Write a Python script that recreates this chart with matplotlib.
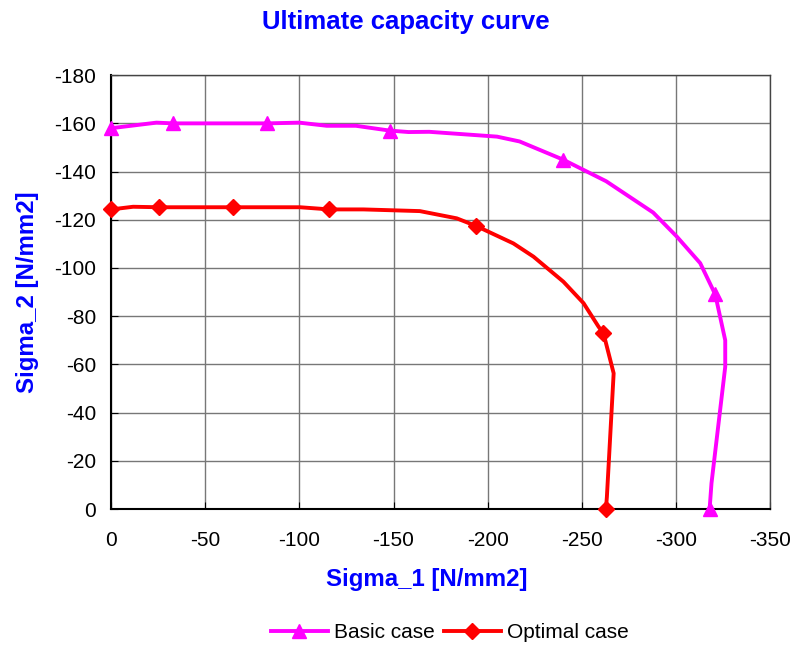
import matplotlib
matplotlib.use("Agg")
import matplotlib.pyplot as plt

plt.rcParams["font.family"] = ["Liberation Sans", "DejaVu Sans"]
plt.rcParams["axes.unicode_minus"] = False

# Basic case: line vertices and the marked points
basic_s1 = [0, -24, -33, -83, -100, -114.5, -130, -148, -158, -169, -205, -217,
            -240, -263, -288, -300.6, -313, -321, -326.3, -326.3, -319, -318]
basic_s2 = [-158, -160.3, -160, -160, -160.3, -159, -159, -157, -156.4, -156.5, -154.5, -152.5,
            -145, -136, -123, -113, -102, -89, -70, -59, -10.7, 0]
basic_marks = [0, 2, 3, 7, 12, 17, 21]

# Optimal case
opt_s1 = [0, -11.6, -25.4, -64.8, -100.3, -115.9, -134, -164, -183.6, -194, -213.7,
          -224.4, -240.3, -251, -259, -261.6, -267, -263.4, -262.9]
opt_s2 = [-124.3, -125.4, -125.2, -125.2, -125.2, -124.3, -124.3, -123.6, -120.6, -117.4, -110.2,
          -104.7, -94.3, -85.4, -75.6, -72.9, -56.3, -5, 0]
opt_marks = [0, 2, 3, 5, 9, 15, 18]

x_ticks = [0, -50, -100, -150, -200, -250, -300, -350]
y_ticks = [0, -20, -40, -60, -80, -100, -120, -140, -160, -180]

fig = plt.figure(figsize=(7.92, 6.48), dpi=100)
ax = fig.add_axes([0.1405, 0.2145, 0.8315, 0.6695])

ax.plot(basic_s1, basic_s2, color="#FF00FF", lw=2.8, marker="^", ms=10,
        markevery=basic_marks, label="Basic case", clip_on=False, zorder=3)
ax.plot(opt_s1, opt_s2, color="#FF0000", lw=2.8, marker="D", ms=8.5,
        markevery=opt_marks, label="Optimal case", clip_on=False, zorder=3)

ax.set_xlim(0, -350)
ax.set_ylim(0, -180)
ax.set_xticks(x_ticks)
ax.set_yticks(y_ticks)
ax.tick_params(direction="in", length=5, labelsize=15, color="black")
ax.tick_params(axis="x", pad=16)
ax.tick_params(axis="y", pad=11)
ax.grid(True, color="#777777", lw=1)
ax.set_axisbelow(True)
for sp in ax.spines.values():
    sp.set_color("#444444")
    sp.set_linewidth(1)
ax.spines["left"].set_color("black")
ax.spines["bottom"].set_color("black")
ax.spines["left"].set_linewidth(1.5)
ax.spines["bottom"].set_linewidth(1.5)

ax.set_xlabel("Sigma_1 [N/mm2]", color="#0000FF", fontsize=17.3, fontweight="bold")
ax.xaxis.set_label_coords(0.479, -0.136)
ax.set_ylabel("Sigma_2 [N/mm2]", color="#0000FF", fontsize=17.3, fontweight="bold", labelpad=11)
fig.suptitle("Ultimate capacity curve", color="#0000FF", fontsize=18.5, fontweight="bold",
             x=0.513, y=0.985)

fig.legend(loc="center", bbox_to_anchor=(0.568, 15 / 648), ncol=2, frameon=False,
           fontsize=15, handlelength=2.74, columnspacing=0.43, handletextpad=0.3,
           borderpad=0, borderaxespad=0)

fig.savefig("out.png", dpi=100)
